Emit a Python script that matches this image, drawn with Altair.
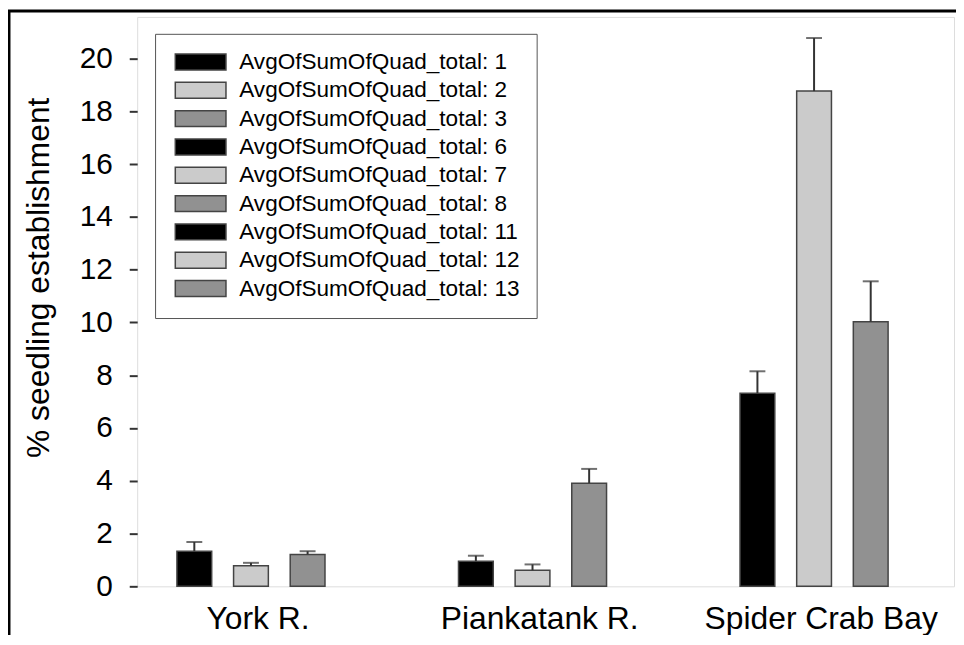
import altair as alt
import pandas as pd

categories = ["York R.", "Piankatank R.", "Spider Crab Bay"]
series_ids = [1, 2, 3, 6, 7, 8, 11, 12, 13]
means = [1.33, 0.78, 1.21, 0.95, 0.61, 3.91, 7.32, 18.77, 10.03]
errors = [0.35, 0.11, 0.12, 0.21, 0.22, 0.54, 0.83, 2.01, 1.53]
fill_colors = ["#000000", "#cbcbcb", "#919191"]
y_ticks = [0, 2, 4, 6, 8, 10, 12, 14, 16, 18, 20]

rows = []
for i, sid in enumerate(series_ids):
    rows.append({
        "site": categories[i // 3],
        "series": "AvgOfSumOfQuad_total: %d" % sid,
        "slot": i % 3,
        "mean": means[i],
        "top": means[i] + errors[i],
    })
df = pd.DataFrame(rows)
series_labels = list(df["series"])

FONT = "Liberation Sans"

x_enc = alt.X(
    "site:N", sort=categories,
    scale=alt.Scale(range=[-27, 823], paddingInner=0, paddingOuter=0),
    axis=alt.Axis(title=None, labelAngle=0, domain=False, ticks=False, tickSize=0,
                  labelPadding=17, labelFontSize=32, labelFont=FONT,
                  labelColor="black", labelLimit=500, labelOffset=7),
)
xoff_enc = alt.XOffset("slot:O", scale=alt.Scale(range=[56, 227], paddingInner=0.386, paddingOuter=0.193))
y_scale = alt.Scale(domain=[0, 21.58], nice=False, zero=True)

base = alt.Chart(df)

bars = base.mark_bar(stroke="#444444", strokeWidth=1.5).encode(
    x=x_enc,
    xOffset=xoff_enc,
    y=alt.Y(
        "mean:Q", scale=y_scale,
        axis=alt.Axis(
            title="% seedling establishment", values=y_ticks, grid=False,
            domain=False, tickSize=8, tickWidth=2, tickColor="#333333",
            labelPadding=17, labelFontSize=30, labelFont=FONT, labelColor="black",
            titleFont=FONT, titleFontSize=32, titleFontWeight="normal",
            titleColor="black", titleX=-99, titleY=262, titleAngle=270,
            titleAlign="center", titleBaseline="middle",
        ),
    ),
    color=alt.Color(
        "series:N",
        scale=alt.Scale(domain=series_labels, range=fill_colors * 3),
        legend=alt.Legend(
            title=None, orient="none", legendX=18, legendY=17, padding=17,
            fillColor="white", strokeColor="#555555",
            symbolType="M-1,-1H5.375V1H-1Z", symbolSize=256,
            symbolStrokeColor="#444444", symbolStrokeWidth=1.5,
            labelFont=FONT, labelFontSize=22.7, labelColor="black",
            labelOffset=45, labelLimit=500, rowPadding=4.5,
        ),
    ),
)

err_lines = base.mark_rule(color="#333333", strokeWidth=2).encode(
    x=x_enc, xOffset=xoff_enc,
    y=alt.Y("mean:Q", scale=y_scale),
    y2="top:Q",
)

caps = base.mark_tick(color="#333333", thickness=2, size=16, orient="horizontal").encode(
    x=x_enc, xOffset=xoff_enc,
    y=alt.Y("top:Q", scale=y_scale),
)

one = pd.DataFrame({"k": [0]})
outer_top = alt.Chart(one).mark_rule(color="black", strokeWidth=3).encode(
    x=alt.value(-131), x2=alt.value(830), y=alt.value(-6)
)
outer_left = alt.Chart(one).mark_rule(color="black", strokeWidth=3).encode(
    x=alt.value(-129), y=alt.value(-7), y2=alt.value(640)
)

chart = alt.layer(bars, err_lines, caps, outer_top, outer_left).properties(
    width=822, height=573,
    autosize=alt.AutoSizeParams(type="none"),
    padding={"left": 130, "top": 7, "right": 2, "bottom": 47},
).configure_view(
    stroke="#444444", strokeWidth=2
).configure(background="white")

chart.save("out.html", embed_options={"renderer": "svg", "actions": False})
